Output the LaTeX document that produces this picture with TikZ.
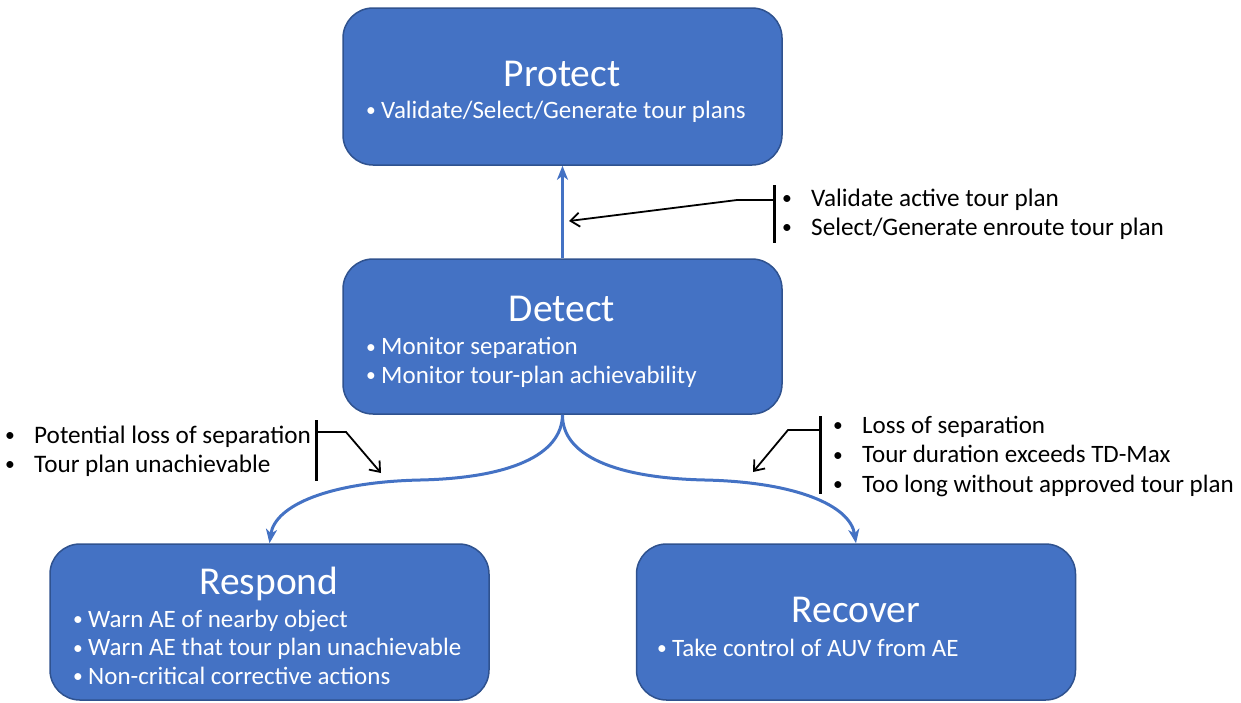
\documentclass[tikz,border=0pt]{standalone}
\usepackage{fontspec}
\setmainfont{Carlito}
\usetikzlibrary{arrows.meta}
\definecolor{boxblue}{HTML}{4472C4}
\definecolor{boxedge}{HTML}{2F528F}
\newcommand\bulletmark{\raisebox{0.06em}{\scalebox{0.78}{•}}}
\newcommand\boxitem[1]{\makebox[15pt][l]{\bulletmark}#1}
\newcommand\noteitem[1]{\makebox[29pt][l]{\bulletmark}#1}
\begin{document}
\begin{tikzpicture}[x=1pt,y=-1pt,
  stage/.style={draw=boxedge, line width=1.5pt, fill=boxblue, rounded corners=30pt,
    inner sep=0pt, minimum width=439pt},
  title/.style={text=white, font=\fontsize{39.5}{46}\selectfont, anchor=base, inner sep=0pt},
  % anchor=base of a multi-line node is the baseline of its last line
  items/.style={text=white, font=\fontsize{25}{28.5}\selectfont, align=left,
    anchor=base west, inner sep=0pt},
  notes/.style={text=black, font=\fontsize{25.2}{28.5}\selectfont, align=left,
    anchor=base west, inner sep=0pt},
  flow/.style={draw=boxblue, line width=3pt, -{Stealth[length=14pt,width=11pt,inset=4pt]}},
  pointer/.style={draw=black, line width=1.8pt, -{Straight Barb[length=9pt,width=14pt]}},
  bar/.style={draw=black, line width=3pt}
]
\useasboundingbox (0,0) rectangle (1241,702);

% the four stages
\node[stage, minimum height=157pt] (protect) at (562.5,86.5) {};
\node[stage, minimum height=155pt] (detect)  at (562.5,336.5) {};
\node[stage, minimum height=156pt] (respond) at (269.5,622) {};
\node[stage, minimum height=156pt] (recover) at (856,622) {};

% stage titles and duties
\node[title] (protectT) at (562,86) {Protect};
\node[items] (protectL) at (366,118) {\boxitem{Validate/Select/Generate tour plans}};

\node[title] (detectT) at (562,321) {Detect};
\node[items] (detectL) at (366,383) {\boxitem{Monitor separation}\\\boxitem{Monitor tour-plan achievability}};

\node[title] (respondT) at (269,594) {Respond};
\node[items] (respondL) at (73,684) {\boxitem{Warn AE of nearby object}\\\boxitem{Warn AE that tour plan unachievable}\\\boxitem{Non-critical corrective actions}};

\node[title] (recoverT) at (856,622) {Recover};
\node[items] (recoverL) at (657,656) {\boxitem{Take control of AUV from AE}};

% transitions between stages
\draw[flow] (detect.north) -- (protect.south);
\draw[flow] (detect.south) .. controls (562,455) and (510,478) .. (420,480)
  .. controls (330,482) and (275,505) .. (respond.north);
\draw[flow] (detect.south) .. controls (562,455) and (614,478) .. (705,480)
  .. controls (795,482) and (850,505) .. (recover.north);

% trigger conditions
\node[notes] (toProtect) at (782,235) {\noteitem{Validate active tour plan}\\\noteitem{Select/Generate enroute tour plan}};
\node[notes] (toRespond) at (5,472) {\noteitem{Potential loss of separation}\\\noteitem{Tour plan unachievable}};
\node[notes, font=\fontsize{25}{29.5}\selectfont] (toRecover) at (833,492) {\noteitem{Loss of separation}\\\noteitem{Tour duration exceeds TD-Max}\\\noteitem{Too long without approved tour plan}};

\coordinate (pA) at (569,221);
\coordinate (pB) at (381,473);
\coordinate (pC) at (753,472);

\draw[bar] (774,185) coordinate (barAtop) -- (774,243) coordinate (barAbot);
\draw[pointer] (774,200) -- (737,200) -- (pA);
\draw[bar] (316,420) coordinate (barBtop) -- (316,481) coordinate (barBbot);
\draw[pointer] (316,432) -- (346,432) -- (pB);
\draw[bar] (820,416) coordinate (barCtop) -- (820,494) coordinate (barCbot);
\draw[pointer] (820,430) -- (788,430) -- (pC);
\end{tikzpicture}
\end{document}
